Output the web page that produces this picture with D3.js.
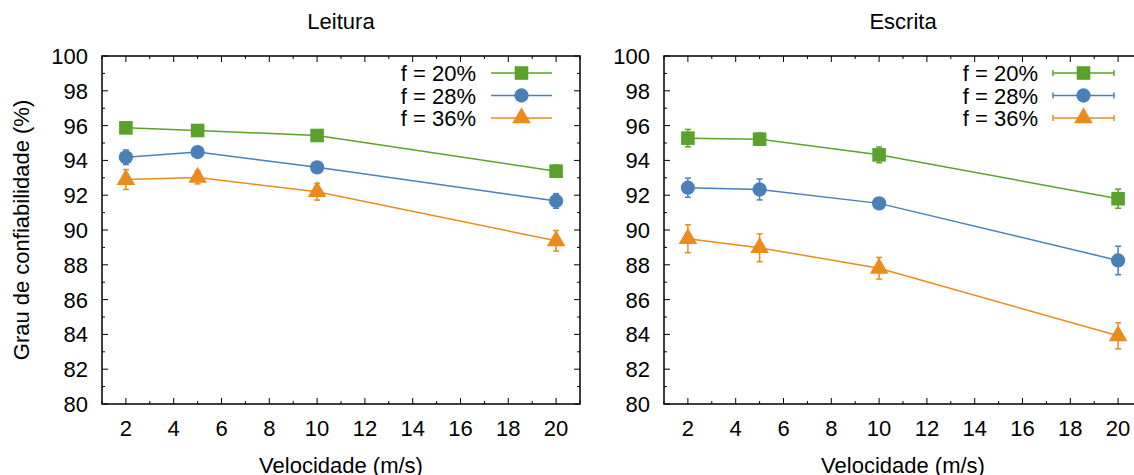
<!DOCTYPE html>
<html>
<head>
<meta charset="utf-8">
<script src="https://cdn.jsdelivr.net/npm/d3@7"></script>
<style>
  body { margin: 0; background: #fff; }
  svg { font-family: "Liberation Sans", Arial, sans-serif; }
</style>
</head>
<body>
<div id="chart"></div>
<script>
var width = 1134,
    height = 475;

// data
var speeds = [2, 5, 10, 20];
var seriesNames = ['f = 20%', 'f = 28%', 'f = 36%'];
var colors = ['#5ba22c', '#4a7fb8', '#ea8b1e'];
var symbols = ['square', 'circle', 'triangle'];

var leitura20 = [95.87, 95.72, 95.43, 93.38];
var leitura28 = [94.18, 94.48, 93.60, 91.67];
var leitura36 = [92.90, 93.02, 92.20, 89.38];
var leituraErr20 = [0.30, 0.20, 0.20, 0.35];
var leituraErr28 = [0.42, 0.20, 0.20, 0.42];
var leituraErr36 = [0.57, 0.37, 0.48, 0.59];

var escrita20 = [95.28, 95.22, 94.32, 91.80];
var escrita28 = [92.43, 92.33, 91.53, 88.25];
var escrita36 = [89.50, 88.98, 87.80, 83.92];
var escritaErr20 = [0.50, 0.35, 0.45, 0.55];
var escritaErr28 = [0.55, 0.60, 0.30, 0.82];
var escritaErr36 = [0.80, 0.80, 0.62, 0.75];

var xTicks = [2, 4, 6, 8, 10, 12, 14, 16, 18, 20];
var yTicks = [80, 82, 84, 86, 88, 90, 92, 94, 96, 98, 100];

var panels = [
  { title: 'Leitura', left: 102, values: [leitura20, leitura28, leitura36],
    errs: [leituraErr20, leituraErr28, leituraErr36], legendCaps: false, yLabel: true },
  { title: 'Escrita', left: 664, values: [escrita20, escrita28, escrita36],
    errs: [escritaErr20, escritaErr28, escritaErr36], legendCaps: true, yLabel: false }
];

var plotW = 478, plotTop = 56, plotBottom = 404;
var fontSize = 22;

var svg = d3.select('#chart').append('svg')
  .attr('width', width)
  .attr('height', height);

var y = d3.scaleLinear().domain([80, 100]).range([plotBottom, plotTop]);

function symbolPath(name) {
  if (name == 'square') return d3.symbol().type(d3.symbolSquare).size(185)();
  if (name == 'circle') return d3.symbol().type(d3.symbolCircle).size(160)();
  return d3.symbol().type(d3.symbolTriangle).size(150)();
}

panels.forEach(function(p) {
  var x = d3.scaleLinear().domain([1, 21]).range([p.left, p.left + plotW]);
  var g = svg.append('g');

  // ticks on all four sides, minor every unit
  var xMinor = d3.range(1, 22, 1), yMinor = d3.range(80, 101, 1);
  xMinor.forEach(function(v) {
    var len = xTicks.indexOf(v) >= 0 ? 6 : 3;
    g.append('line').attr('x1', x(v)).attr('x2', x(v)).attr('y1', plotBottom).attr('y2', plotBottom - len)
      .attr('stroke', '#000').attr('stroke-width', 1);
    g.append('line').attr('x1', x(v)).attr('x2', x(v)).attr('y1', plotTop).attr('y2', plotTop + len)
      .attr('stroke', '#000').attr('stroke-width', 1);
  });
  yMinor.forEach(function(v) {
    var len = yTicks.indexOf(v) >= 0 ? 6 : 3;
    g.append('line').attr('x1', p.left).attr('x2', p.left + len).attr('y1', y(v)).attr('y2', y(v))
      .attr('stroke', '#000').attr('stroke-width', 1);
    g.append('line').attr('x1', p.left + plotW).attr('x2', p.left + plotW - len).attr('y1', y(v)).attr('y2', y(v))
      .attr('stroke', '#000').attr('stroke-width', 1);
  });

  // frame
  g.append('rect')
    .attr('x', p.left).attr('y', plotTop)
    .attr('width', plotW).attr('height', plotBottom - plotTop)
    .attr('fill', 'none').attr('stroke', '#000').attr('stroke-width', 1.5);

  // tick labels
  g.selectAll('.xl').data(xTicks).enter().append('text')
    .attr('x', function(d) { return x(d); })
    .attr('y', 436)
    .attr('text-anchor', 'middle')
    .attr('font-size', fontSize)
    .text(function(d) { return d; });
  g.selectAll('.yl').data(yTicks).enter().append('text')
    .attr('x', p.left - 14)
    .attr('y', function(d) { return y(d) + 8; })
    .attr('text-anchor', 'end')
    .attr('font-size', fontSize)
    .text(function(d) { return d; });

  // titles
  g.append('text').attr('x', p.left + 239).attr('y', 29)
    .attr('text-anchor', 'middle').attr('font-size', fontSize).text(p.title);
  g.append('text').attr('x', p.left + 239).attr('y', 473)
    .attr('text-anchor', 'middle').attr('font-size', fontSize).text('Velocidade (m/s)');
  if (p.yLabel) {
    g.append('text')
      .attr('transform', 'translate(29,' + ((plotTop + plotBottom) / 2) + ')rotate(-90)')
      .attr('text-anchor', 'middle').attr('font-size', fontSize).text('Grau de confiabilidade (%)');
  }

  // series
  p.values.forEach(function(vals, si) {
    var pts = speeds.map(function(s, i) { return { x: s, y: vals[i], e: p.errs[si][i] }; });
    var col = colors[si];
    var line = d3.line().x(function(d) { return x(d.x); }).y(function(d) { return y(d.y); });
    var sg = g.append('g');
    sg.append('path').datum(pts).attr('d', line)
      .attr('fill', 'none').attr('stroke', col).attr('stroke-width', 1.5);

    pts.forEach(function(d) {
      var cx = x(d.x);
      sg.append('line').attr('x1', cx).attr('x2', cx).attr('y1', y(d.y - d.e)).attr('y2', y(d.y + d.e))
        .attr('stroke', col).attr('stroke-width', 1.5);
      [d.y - d.e, d.y + d.e].forEach(function(v) {
        sg.append('line').attr('x1', cx - 3).attr('x2', cx + 3).attr('y1', y(v)).attr('y2', y(v))
          .attr('stroke', col).attr('stroke-width', 1.5);
      });
      sg.append('path').attr('d', symbolPath(symbols[si]))
        .attr('transform', 'translate(' + cx + ',' + y(d.y) + ')')
        .attr('fill', col);
    });

    // legend
    var ly = 73 + si * 22.5;
    var lx0 = p.left + 389, lx1 = p.left + 450;
    g.append('text').attr('x', p.left + 374).attr('y', ly + 8)
      .attr('text-anchor', 'end').attr('font-size', fontSize).text(seriesNames[si]);
    g.append('line').attr('x1', lx0).attr('x2', lx1).attr('y1', ly).attr('y2', ly)
      .attr('stroke', col).attr('stroke-width', 1.5);
    if (p.legendCaps) {
      [lx0, lx1].forEach(function(cx) {
        g.append('line').attr('x1', cx).attr('x2', cx).attr('y1', ly - 3).attr('y2', ly + 3)
          .attr('stroke', col).attr('stroke-width', 1.5);
      });
    }
    g.append('path').attr('d', symbolPath(symbols[si]))
      .attr('transform', 'translate(' + ((lx0 + lx1) / 2) + ',' + ly + ')')
      .attr('fill', col);
  });
});
</script>
</body>
</html>
